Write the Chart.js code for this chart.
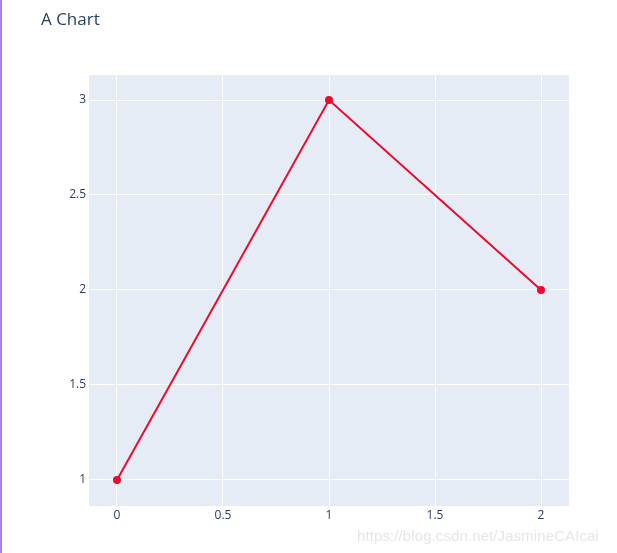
<!DOCTYPE html>
<html>
<head>
<meta charset="utf-8">
<script src="https://cdn.jsdelivr.net/npm/chart.js@4/dist/chart.umd.min.js"></script>
<style>
	html, body { margin: 0; padding: 0; background: #fff; }
	#wrap { position: relative; width: 617px; height: 553px; overflow: hidden; }
	#edge { position: absolute; left: 0; top: 0; width: 2px; height: 553px; background: #a983dc; }
	#title { position: absolute; left: 41px; top: 7px; font: 17px "Open Sans", sans-serif; color: #2a3f5f; }
	#mark { position: absolute; left: 357px; top: 527px; font: 15px "Liberation Sans", Arial, sans-serif; color: #e6e6e6; letter-spacing: 0.1px; }
	canvas { position: absolute; left: 0; top: 0; }
</style>
</head>
<body>
<div id="wrap">
	<canvas id="chart" width="617" height="553"></canvas>
	<div id="edge"></div>
	<div id="title">A Chart</div>
	<div id="mark">https://blog.csdn.net/JasmineCAIcai</div>
</div>
<script>
(function(){
	// data
	const xValues = [0, 1, 2];
	const yValues = [1, 3, 2];
	const xTicks = [0, 0.5, 1, 1.5, 2];
	const yTicks = [1, 1.5, 2, 2.5, 3];

	const points = xValues.map(function(x, i){ return { x: x, y: yValues[i] }; });

	// paint the plot area background
	const plotBg = {
		id: 'plotBg',
		beforeDraw: function(chart) {
			const a = chart.chartArea;
			const ctx = chart.ctx;
			ctx.save();
			ctx.fillStyle = '#e5ecf6';
			ctx.fillRect(a.left, a.top, a.right - a.left, a.bottom - a.top);
			ctx.restore();
		}
	};

	const tickFont = { family: '"Open Sans", sans-serif', size: 12 };
	function plain(v){ return String(v); }

	new Chart(document.getElementById('chart'), {
		type: 'scatter',
		data: {
			datasets: [{
				data: points,
				showLine: true,
				borderColor: '#ef0a2c',
				backgroundColor: '#ef0a2c',
				borderWidth: 2,
				pointRadius: 3,
				pointHoverRadius: 3,
				tension: 0
			}]
		},
		options: {
			responsive: false,
			animation: false,
			layout: { padding: { left: 0, top: 75, right: 48, bottom: 0 } },
			plugins: { legend: { display: false }, tooltip: { enabled: false } },
			scales: {
				x: {
					type: 'linear',
					min: -0.132,
					max: 2.132,
					afterBuildTicks: function(s){ s.ticks = xTicks.map(function(v){ return { value: v }; }); },
					afterFit: function(s){ s.height = 47; },
					grid: { color: '#ffffff', lineWidth: 1, drawTicks: false },
					border: { display: false },
					ticks: { color: '#2a3f5f', font: tickFont, padding: 2, maxRotation: 0, callback: plain }
				},
				y: {
					type: 'linear',
					min: 0.863,
					max: 3.1316,
					afterBuildTicks: function(s){ s.ticks = yTicks.map(function(v){ return { value: v }; }); },
					afterFit: function(s){ s.width = 89; },
					grid: { color: '#ffffff', lineWidth: 1, drawTicks: false },
					border: { display: false },
					ticks: { color: '#2a3f5f', font: tickFont, padding: 3, callback: plain }
				}
			}
		},
		plugins: [plotBg]
	});
})();
</script>
</body>
</html>
